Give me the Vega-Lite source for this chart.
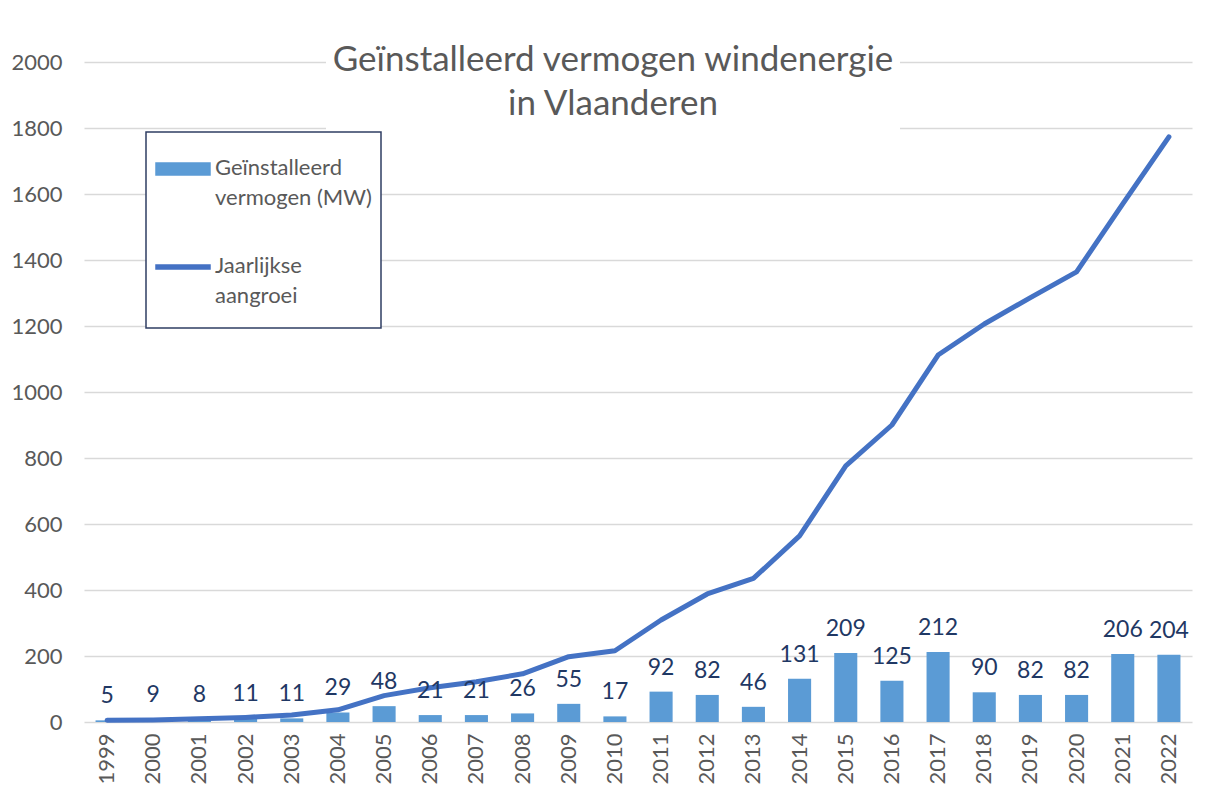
{
  "$schema": "https://vega.github.io/schema/vega-lite/v6.json",
  "width": 1108,
  "height": 660,
  "autosize": "none",
  "padding": {"left": 84, "top": 62, "right": 22, "bottom": 88},
  "background": "white",
  "config": {
    "font": "Lato",
    "view": {"stroke": null},
    "axis": {"labelFont": "Lato", "labelColor": "#595959", "labelFontSize": 22}
  },
  "title": {
    "text": ["Geïnstalleerd vermogen windenergie", "in Vlaanderen"],
    "fontSize": 35,
    "fontWeight": "normal",
    "color": "#595959",
    "lineHeight": 44,
    "anchor": "middle",
    "frame": "group",
    "offset": -80,
    "dx": -25
  },
  "data": {
    "values": [
      {"year": 1999, "growth": 5, "total": 5},
      {"year": 2000, "growth": 9, "total": 6},
      {"year": 2001, "growth": 8, "total": 10},
      {"year": 2002, "growth": 11, "total": 14},
      {"year": 2003, "growth": 11, "total": 21},
      {"year": 2004, "growth": 29, "total": 37},
      {"year": 2005, "growth": 48, "total": 80},
      {"year": 2006, "growth": 21, "total": 104},
      {"year": 2007, "growth": 21, "total": 122},
      {"year": 2008, "growth": 26, "total": 146},
      {"year": 2009, "growth": 55, "total": 198},
      {"year": 2010, "growth": 17, "total": 216},
      {"year": 2011, "growth": 92, "total": 309},
      {"year": 2012, "growth": 82, "total": 388},
      {"year": 2013, "growth": 46, "total": 435},
      {"year": 2014, "growth": 131, "total": 564},
      {"year": 2015, "growth": 209, "total": 776},
      {"year": 2016, "growth": 125, "total": 900},
      {"year": 2017, "growth": 212, "total": 1112},
      {"year": 2018, "growth": 90, "total": 1206},
      {"year": 2019, "growth": 82, "total": 1286},
      {"year": 2020, "growth": 82, "total": 1364},
      {"year": 2021, "growth": 206, "total": 1570},
      {"year": 2022, "growth": 204, "total": 1773}
    ]
  },
  "encoding": {
    "x": {
      "field": "year",
      "type": "ordinal",
      "scale": {"paddingInner": 0.5, "paddingOuter": 0.25},
      "axis": {
        "title": null,
        "domain": false,
        "ticks": false,
        "labelAngle": 270,
        "labelAlign": "right",
        "labelBaseline": "middle",
        "labelPadding": 11
      }
    }
  },
  "layer": [
    {
      "mark": {"type": "bar", "color": "#5B9BD5"},
      "encoding": {
        "y": {
          "field": "growth",
          "type": "quantitative",
          "scale": {"domain": [0, 2000]},
          "axis": {
            "title": null,
            "domain": false,
            "ticks": false,
            "format": "d",
            "values": [0, 200, 400, 600, 800, 1000, 1200, 1400, 1600, 1800, 2000],
            "gridColor": "#D9D9D9",
            "gridWidth": 1.4,
            "labelPadding": 22
          }
        },
        "color": {
          "datum": "Geïnstalleerd vermogen (MW)",
          "scale": {
            "domain": ["Geïnstalleerd vermogen (MW)", "Jaarlijkse aangroei"],
            "range": ["#5B9BD5", "#4472C4"]
          },
          "legend": {
            "orient": "none",
            "legendX": 62,
            "legendY": 70,
            "title": " ",
            "titleOrient": "bottom",
            "titleFontSize": 2,
            "titlePadding": 10,
            "strokeColor": "#2F3E63",
            "fillColor": "white",
            "padding": 9,
            "labelFontSize": 22,
            "labelColor": "#595959",
            "labelFont": "Lato",
            "symbolSize": 2916,
            "labelOffset": 4,
            "rowPadding": 30,
            "labelLimit": 300,
            "labelBaseline": "top",
            "labelExpr": "datum.label == 'Jaarlijkse aangroei' ? ['Jaarlijkse', 'aangroei'] : ['Geïnstalleerd', 'vermogen (MW)']",
            "encode": {
              "legend": {"update": {"strokeWidth": {"value": 1.5}}},
              "labels": {"update": {"dy": {"value": -11}, "lineHeight": {"value": 30}}},
              "symbols": {
                "update": {
                  "shape": {"signal": "datum.value == 'Jaarlijkse aangroei' ? 'M-1,-0.075H1V0.075H-1Z' : 'M-1,-0.22H1V0.22H-1Z'"},
                  "fill": {"signal": "datum.value == 'Jaarlijkse aangroei' ? '#4472C4' : '#5B9BD5'"},
                  "stroke": {"value": "transparent"},
                  "opacity": {"value": 1}
                }
              }
            }
          }
        }
      }
    },
    {
      "mark": {"type": "rect", "color": "white"},
      "encoding": {
        "x": {"datum": 2004, "bandPosition": 0},
        "x2": {"datum": 2016, "bandPosition": 0.85},
        "y": {"datum": 1790},
        "y2": {"datum": 2060}
      }
    },
    {
      "mark": {"type": "line", "strokeWidth": 5, "strokeCap": "round", "strokeJoin": "round"},
      "encoding": {
        "y": {"field": "total", "type": "quantitative"},
        "color": {"datum": "Jaarlijkse aangroei"}
      }
    },
    {
      "mark": {"type": "text", "baseline": "bottom", "dy": -12, "fontSize": 23, "color": "#1F3864", "font": "Lato"},
      "encoding": {
        "y": {"field": "growth", "type": "quantitative"},
        "text": {"field": "growth", "type": "quantitative"}
      }
    }
  ]
}
